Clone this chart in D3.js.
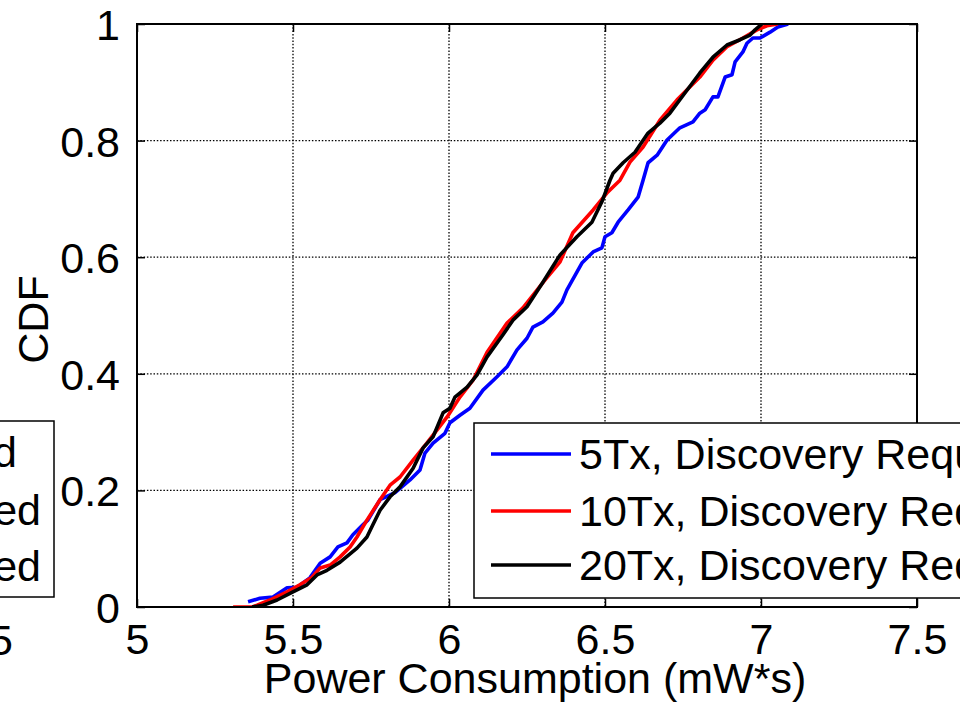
<!DOCTYPE html>
<html><head><meta charset="utf-8">
<script src="https://cdn.jsdelivr.net/npm/d3@7"></script>
<style>
html,body{margin:0;padding:0;background:#fff;overflow:hidden}
text{font-family:"Liberation Sans",Arial,Helvetica,sans-serif;fill:#000}
</style></head>
<body>
<svg id="chart" width="960" height="711"></svg>
<script>
// ---- data ----
const xTicks = [5, 5.5, 6, 6.5, 7, 7.5];
const yTicks = [0, 0.2, 0.4, 0.6, 0.8, 1];
const xTickLabels = ["5", "5.5", "6", "6.5", "7", "7.5"];
const yTickLabels = ["0", "0.2", "0.4", "0.6", "0.8", "1"];
const seriesNames = ["5Tx, Discovery Request", "10Tx, Discovery Request", "20Tx, Discovery Request"];
const seriesColors = ["#0000ff", "#ff0000", "#000000"];
const leftLegendFragments = ["d", "ed", "ed"];

const blueX = [5.356,5.394,5.436,5.481,5.513,5.554,5.587,5.619,5.644,5.673,5.692,5.724,5.740,5.779,5.827,5.875,5.907,5.923,5.949,5.987,6.003,6.035,6.067,6.109,6.154,6.186,6.218,6.250,6.269,6.301,6.333,6.362,6.378,6.426,6.462,6.490,6.500,6.522,6.542,6.574,6.606,6.622,6.638,6.667,6.699,6.740,6.782,6.804,6.821,6.846,6.862,6.885,6.907,6.917,6.942,6.955,6.974,6.997,7.029,7.054,7.087];
const blueY = [0.009,0.015,0.017,0.033,0.034,0.050,0.075,0.086,0.103,0.110,0.124,0.141,0.149,0.184,0.196,0.218,0.235,0.264,0.281,0.298,0.316,0.329,0.341,0.372,0.395,0.412,0.441,0.461,0.480,0.489,0.504,0.523,0.544,0.590,0.609,0.616,0.635,0.642,0.660,0.681,0.703,0.732,0.762,0.775,0.801,0.822,0.832,0.847,0.853,0.875,0.875,0.909,0.913,0.935,0.952,0.967,0.976,0.976,0.986,0.995,1.0];

const redX = [5.308,5.369,5.385,5.426,5.481,5.522,5.561,5.587,5.619,5.651,5.683,5.705,5.737,5.779,5.811,5.843,5.885,5.929,5.994,6.035,6.077,6.122,6.186,6.237,6.308,6.356,6.397,6.462,6.506,6.548,6.580,6.622,6.676,6.731,6.804,6.846,6.891,6.942,6.987,7.019,7.054];
const redY = [0,0,0.003,0.012,0.026,0.038,0.051,0.067,0.072,0.086,0.103,0.120,0.149,0.184,0.209,0.223,0.252,0.281,0.326,0.360,0.389,0.437,0.487,0.513,0.561,0.592,0.642,0.681,0.710,0.732,0.763,0.789,0.835,0.870,0.909,0.938,0.961,0.976,0.990,0.997,1.0];

const blackX = [5.369,5.404,5.449,5.500,5.545,5.577,5.609,5.651,5.705,5.737,5.756,5.779,5.811,5.843,5.885,5.917,5.949,5.981,6.003,6.019,6.058,6.090,6.122,6.173,6.205,6.250,6.301,6.356,6.410,6.458,6.490,6.516,6.526,6.558,6.596,6.638,6.676,6.708,6.740,6.804,6.846,6.891,6.933,6.965,6.981,7.003];
const blackY = [0,0.003,0.012,0.026,0.038,0.055,0.063,0.077,0.101,0.120,0.141,0.166,0.189,0.206,0.238,0.273,0.292,0.333,0.341,0.360,0.377,0.398,0.429,0.467,0.492,0.515,0.557,0.604,0.635,0.660,0.695,0.732,0.744,0.762,0.780,0.813,0.830,0.847,0.870,0.916,0.943,0.964,0.973,0.981,0.990,1.0];

const seriesX = [blueX, redX, blackX];
const seriesY = [blueY, redY, blackY];

// ---- layout ----
const svg = d3.select("#chart");
const L = 137, R = 917, T = 24, B = 607;
const x = d3.scaleLinear().domain([5, 7.5]).range([L, R]);
const y = d3.scaleLinear().domain([0, 1]).range([B, T]);
const FS = 43;

svg.append("defs").append("clipPath").attr("id","plotclip")
  .append("rect").attr("x",L).attr("y",T).attr("width",R-L).attr("height",B-T);

// grid
const grid = svg.append("g");
xTicks.slice(1,-1).forEach(v=>{
  grid.append("line").attr("x1",x(v)).attr("x2",x(v)).attr("y1",T).attr("y2",B)
    .attr("stroke","#000").attr("stroke-width",1.3).attr("stroke-dasharray","1.5,1.8");
});
yTicks.slice(1,-1).forEach(v=>{
  grid.append("line").attr("x1",L).attr("x2",R).attr("y1",y(v)).attr("y2",y(v))
    .attr("stroke","#000").attr("stroke-width",1.3).attr("stroke-dasharray","1.5,1.8");
});

// axes via d3 axis (ticks inward)
const axB = svg.append("g").attr("transform",`translate(0,${B})`)
  .call(d3.axisBottom(x).tickValues(xTicks).tickFormat((d,i)=>xTickLabels[i]).tickSizeInner(-8).tickSizeOuter(0).tickPadding(17));
const axT = svg.append("g").attr("transform",`translate(0,${T})`)
  .call(d3.axisTop(x).tickValues(xTicks).tickFormat("").tickSizeInner(-8).tickSizeOuter(0));
const axL = svg.append("g").attr("transform",`translate(${L},0)`)
  .call(d3.axisLeft(y).tickValues(yTicks).tickFormat((d,i)=>yTickLabels[i]).tickSizeInner(-8).tickSizeOuter(0).tickPadding(17));
const axR = svg.append("g").attr("transform",`translate(${R},0)`)
  .call(d3.axisRight(y).tickValues(yTicks).tickFormat("").tickSizeInner(-8).tickSizeOuter(0));
[axB,axT,axL,axR].forEach(a=>{
  a.select(".domain").remove();
  a.selectAll(".tick line").attr("stroke","#000").attr("stroke-width",1.5);
  a.selectAll("text").attr("font-size",FS).attr("font-family","Liberation Sans, Arial, sans-serif").attr("fill","#000");
});
axB.selectAll("text").attr("dy","0.69em");
axL.selectAll("text").attr("dy","0.36em");

// lines
const g = svg.append("g").attr("clip-path","url(#plotclip)");
seriesX.forEach((xs,si)=>{
  const pts = xs.map((v,i)=>[v, seriesY[si][i]]);
  g.append("path").datum(pts)
    .attr("d", d3.line().x(d=>x(d[0])).y(d=>y(d[1])))
    .attr("fill","none").attr("stroke",seriesColors[si]).attr("stroke-width",3.6)
    .attr("stroke-linejoin","round").attr("stroke-linecap","butt");
});

// box
svg.append("rect").attr("x",L).attr("y",T).attr("width",R-L).attr("height",B-T)
  .attr("fill","none").attr("stroke","#000").attr("stroke-width",2);

// axis titles
svg.append("text").attr("x",(L+R)/2 + 8).attr("y",693).attr("text-anchor","middle")
  .attr("font-size",FS).text("Power Consumption (mW*s)");
svg.append("text").attr("transform",`translate(48,${(T+B)/2 + 4}) rotate(-90)`)
  .attr("text-anchor","middle").attr("font-size",FS).text("CDF");

// right legend (clipped by the figure edge)
const lg = svg.append("g");
lg.append("rect").attr("x",474).attr("y",423).attr("width",600).attr("height",175)
  .attr("fill","#fff").attr("stroke","#000").attr("stroke-width",1.5);
const legY = [454, 511, 565];
seriesNames.forEach((n,i)=>{
  lg.append("line").attr("x1",491).attr("x2",571).attr("y1",legY[i]).attr("y2",legY[i])
    .attr("stroke",seriesColors[i]).attr("stroke-width",3.6);
  lg.append("text").attr("x",579).attr("y",legY[i]).attr("dy","0.36em")
    .attr("font-size",FS).text(n);
});

// fragments of the neighbouring panel on the left
const lf = svg.append("g");
lf.append("rect").attr("x",-100).attr("y",421).attr("width",154).attr("height",176)
  .attr("fill","#fff").attr("stroke","#000").attr("stroke-width",1.5);
const fragEnd = [17, 41, 41];
const fragY = [452, 510, 566];
leftLegendFragments.forEach((t,i)=>{
  lf.append("text").attr("x",fragEnd[i]).attr("y",fragY[i]).attr("dy","0.36em")
    .attr("text-anchor","end").attr("font-size",FS).text(t);
});
lf.append("text").attr("x",13).attr("y",655).attr("text-anchor","end")
  .attr("font-size",FS).text("7.5");
</script>
</body></html>
